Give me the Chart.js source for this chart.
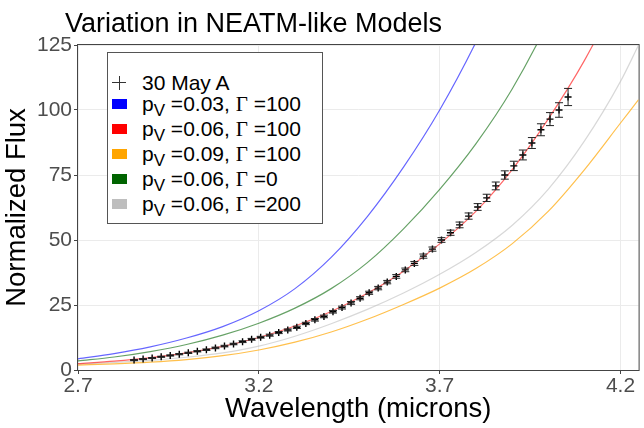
<!DOCTYPE html>
<html>
<head>
<meta charset="utf-8">
<script src="https://cdn.jsdelivr.net/npm/chart.js@4.4.0/dist/chart.umd.min.js"></script>
<style>
    body { margin: 0; background: #fff; }
    #wrap { position: relative; width: 644px; height: 428px; }
    #key {
        position: absolute; left: 107px; top: 52px; width: 214px; height: 170px;
        border: 1px solid #555; background: #fff;
        font-family: "Liberation Sans", Arial, sans-serif; font-size: 21px; color: #000;
    }
    .row { position: absolute; left: 0; height: 24px; line-height: 24px; white-space: nowrap; }
    .sw { position: absolute; left: 4px; top: 7px; width: 15px; height: 10px; }
    .lbl { position: absolute; left: 34px; top: 0; }
    .lbl sub { font-size: 17px; vertical-align: -5px; line-height: 0; }
    .gam { font-family: "Liberation Serif", "DejaVu Serif", serif; }
    .crossH { position: absolute; left: 4px; top: 11px; width: 14px; height: 1px; background: #333; }
    .crossV { position: absolute; left: 11px; top: 5px; width: 1px; height: 14px; background: #333; }
</style>
</head>
<body>
<div id="wrap">
    <canvas id="myChart" width="644" height="428"></canvas>
    <div id="key"></div>
</div>
<script>
// model wavelengths (microns) and model curves
const wavelengths = [2.7, 2.8, 2.9, 3.0, 3.1, 3.2, 3.3, 3.4, 3.5, 3.6, 3.7, 3.8, 3.9, 4.0, 4.1, 4.2, 4.25];
const fluxP03G100 = [4.3, 6.3, 8.9, 12.3, 16.7, 22.8, 31.3, 43.3, 59, 78, 100, 126, 156];
const fluxP06G100 = [2.45, 3.4, 4.75, 6.6, 9.1, 12.5, 16.9, 22.5, 29.5, 38, 48.5, 61, 77, 96.5, 119, 146, 161];
const fluxP09G100 = [1.9, 2.35, 3.0, 4.0, 5.5, 7.7, 10.7, 14.6, 19.5, 25.2, 31.5, 39, 48.5, 61, 77, 95, 104];
const fluxP06G0 = [3.5, 5.0, 7.1, 9.8, 13.4, 18, 23.8, 31.3, 41.3, 54.3, 69.5, 87, 108, 134, 165];
const fluxP06G200 = [2.25, 2.9, 3.7, 4.9, 6.6, 9.2, 13, 17.8, 23.3, 29.6, 36.8, 45.2, 55.6, 69.5, 88, 111, 125];

// observed spectrum, 30 May A
const obsWavelengths = [2.855, 2.88, 2.905, 2.93, 2.955, 2.98, 3.005, 3.03, 3.055, 3.08, 3.105, 3.13, 3.155, 3.18, 3.205, 3.23, 3.255, 3.28, 3.305, 3.33, 3.355, 3.38, 3.405, 3.43, 3.455, 3.48, 3.505, 3.53, 3.555, 3.58, 3.605, 3.63, 3.655, 3.68, 3.705, 3.73, 3.755, 3.78, 3.805, 3.83, 3.855, 3.88, 3.905, 3.93, 3.955, 3.98, 4.005, 4.03, 4.055];
const obsFlux = [3.8, 4.2, 4.6, 5.1, 5.6, 6.1, 6.6, 7.2, 7.8, 8.5, 9.2, 10.0, 10.9, 11.8, 12.6, 13.4, 14.4, 15.4, 16.4, 17.9, 19.3, 20.6, 22.4, 24.0, 25.8, 27.6, 29.7, 31.5, 33.8, 36.0, 38.5, 41.0, 43.8, 46.5, 50.0, 52.8, 55.8, 59.2, 62.7, 66.2, 70.8, 75.0, 78.5, 82.7, 87.3, 92.4, 96.5, 100, 105];
const obsErr = [0.2, 0.2, 0.2, 0.2, 0.2, 0.25, 0.25, 0.25, 0.3, 0.3, 0.3, 0.3, 0.35, 0.35, 0.35, 0.4, 0.4, 0.4, 0.45, 0.45, 0.5, 0.5, 0.5, 0.55, 0.55, 0.6, 0.6, 0.65, 0.65, 0.7, 0.7, 0.75, 0.8, 0.8, 0.9, 1.0, 1.1, 1.2, 1.3, 1.4, 1.5, 1.6, 1.8, 1.9, 2.1, 2.3, 2.5, 2.8, 3.3];

// axis ticks
const xTicks = [2.7, 3.2, 3.7, 4.2];
const yTicks = [0, 25, 50, 75, 100, 125];

// legend entries
const seriesNames = ['30 May A', '0.03|100', '0.06|100', '0.09|100', '0.06|0', '0.06|200'];
const keyColors = ['#333', '#0000ff', '#ff0000', '#ffa500', '#006400', '#bebebe'];

document.addEventListener('DOMContentLoaded', function() {
    function toPoints(ys) {
        return ys.map(function(y, i) { return { x: wavelengths[i], y: y }; });
    }

    function modelSet(label, ys, color) {
        return {
            type: 'line', label: label, data: toPoints(ys),
            borderColor: color, borderWidth: 1.2, pointRadius: 0,
            cubicInterpolationMode: 'monotone', order: 2
        };
    }

    // panel border, and the title moved a little left of the panel like the original
    var panelBorder = {
        id: 'panelBorder',
        afterLayout: function(chart) {
            if (chart.titleBlock) {
                chart.titleBlock.left = chart.chartArea.left - 13;
            }
        },
        beforeDatasetsDraw: function(chart) {
            var a = chart.chartArea, c = chart.ctx;
            c.save();
            c.strokeStyle = '#444';
            c.lineWidth = 1;
            c.strokeRect(Math.round(a.left) - 0.5, Math.round(a.top) - 0.5, a.right - a.left + 1, a.bottom - a.top + 1);
            c.restore();
        }
    };

    // vertical error bars from obsErr
    var errorBars = {
        id: 'errorBars',
        afterDatasetsDraw: function(chart) {
            var xs = chart.scales.x, ys = chart.scales.y, c = chart.ctx;
            c.save();
            c.strokeStyle = '#222';
            c.lineWidth = 1;
            obsWavelengths.forEach(function(w, i) {
                var px = xs.getPixelForValue(w);
                var top = ys.getPixelForValue(obsFlux[i] + obsErr[i]);
                var bot = ys.getPixelForValue(obsFlux[i] - obsErr[i]);
                c.beginPath();
                c.moveTo(px, top); c.lineTo(px, bot);
                c.moveTo(px - 4, top); c.lineTo(px + 4, top);
                c.moveTo(px - 4, bot); c.lineTo(px + 4, bot);
                c.stroke();
            });
            c.restore();
        }
    };

    Chart.defaults.font.family = "'Liberation Sans', Arial, sans-serif";

    var ctx = document.getElementById('myChart').getContext('2d');
    var myChart = new Chart(ctx, {
        type: 'scatter',
        data: {
            datasets: [
                {
                    label: seriesNames[0],
                    data: obsWavelengths.map(function(w, i) { return { x: w, y: obsFlux[i] }; }),
                    pointStyle: 'cross', pointRadius: 3.5, pointBorderWidth: 1.4,
                    borderColor: '#000', backgroundColor: '#000', order: 1
                },
                modelSet(seriesNames[1], fluxP03G100, 'rgba(0, 0, 255, 0.6)'),
                modelSet(seriesNames[2], fluxP06G100, 'rgba(255, 0, 0, 0.6)'),
                modelSet(seriesNames[3], fluxP09G100, 'rgba(255, 165, 0, 0.7)'),
                modelSet(seriesNames[4], fluxP06G0, 'rgba(0, 100, 0, 0.6)'),
                modelSet(seriesNames[5], fluxP06G200, 'rgba(190, 190, 190, 0.6)')
            ]
        },
        options: {
            responsive: false,
            animation: false,
            layout: { padding: 0 },
            plugins: {
                legend: { display: false },
                tooltip: { enabled: false },
                title: {
                    display: true, text: 'Variation in NEATM-like Models',
                    align: 'start', fullSize: false, color: '#000',
                    font: { size: 27, weight: 'normal' },
                    padding: { top: 8, bottom: 4.6 }
                }
            },
            scales: {
                x: {
                    type: 'linear', min: 2.7, max: 4.25,
                    afterBuildTicks: function(s) { s.ticks = xTicks.map(function(v) { return { value: v }; }); },
                    afterFit: function(s) { s.height = 58; },
                    grid: { color: '#ebebeb', tickColor: '#444', tickLength: 4 },
                    border: { display: false },
                    ticks: {
                        color: '#4d4d4d', font: { size: 21 }, padding: 0, maxRotation: 0,
                        callback: function(v) { return v.toFixed(1); }
                    },
                    title: {
                        display: true, text: 'Wavelength (microns)', color: '#000',
                        font: { size: 27.5 }, padding: { top: 0, bottom: 2 }
                    }
                },
                y: {
                    min: 0, max: 125,
                    afterBuildTicks: function(s) { s.ticks = yTicks.map(function(v) { return { value: v }; }); },
                    afterFit: function(s) { s.width = 78; },
                    grid: { color: '#ebebeb', tickColor: '#444', tickLength: 4 },
                    border: { display: false },
                    ticks: { color: '#4d4d4d', font: { size: 21 }, padding: 2 },
                    title: {
                        display: true, text: 'Normalized Flux', color: '#000',
                        font: { size: 27.5 }, padding: { top: 1, bottom: 0 }
                    }
                }
            }
        },
        plugins: [panelBorder, errorBars]
    });

    // legend with subscripts, built from the series names
    var key = document.getElementById('key');
    var rowTops = [18, 39, 64, 89, 114, 139];
    seriesNames.forEach(function(name, i) {
        var row = document.createElement('div');
        row.className = 'row';
        row.style.top = rowTops[i] + 'px';
        var html;
        if (i === 0) {
            html = '<div class="crossH"></div><div class="crossV"></div><span class="lbl">' + name + '</span>';
        } else {
            var parts = name.split('|');
            html = '<div class="sw" style="background:' + keyColors[i] + '"></div>' +
                '<span class="lbl">p<sub>V</sub> =' + parts[0] + ', <span class="gam">\u0393</span> =' + parts[1] + '</span>';
        }
        row.innerHTML = html;
        key.appendChild(row);
    });
});
</script>
</body>
</html>
